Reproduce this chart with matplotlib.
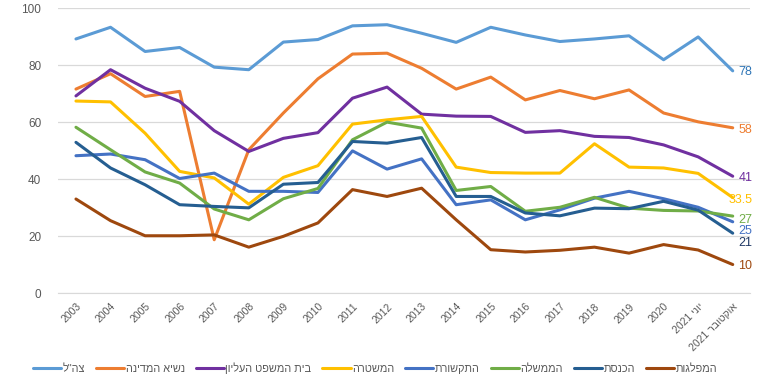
import numpy as np
import matplotlib
matplotlib.use("Agg")
import matplotlib.pyplot as plt

plt.rcParams['font.family'] = ['Liberation Sans', 'DejaVu Sans']


def heb(s):
    # matplotlib has no bidi support: flip Hebrew runs by hand
    return s[::-1]


years = [str(y) for y in range(2003, 2021)] + ['2021 ' + heb('יוני'), '2021 ' + heb('אוקטובר')]

idf = [89.2, 93.3, 84.8, 86.2, 79.3, 78.4, 88.1, 89.0, 93.8, 94.2,
       91.2, 88.0, 93.3, 90.6, 88.3, 89.2, 90.3, 81.9, 89.9, 78]
president = [71.6, 77.0, 69.0, 70.8, 18.7, 50.3, 63.2, 75.2, 83.9, 84.2,
             78.9, 71.6, 75.8, 67.8, 71.1, 68.2, 71.3, 63.2, 60.1, 58]
supreme_court = [69.2, 78.4, 71.9, 67.3, 57.0, 49.7, 54.3, 56.3, 68.4, 72.3,
                 62.8, 62.1, 62.0, 56.4, 57.0, 55.0, 54.6, 52.0, 47.8, 41]
police = [67.4, 67.1, 56.1, 42.7, 40.4, 31.2, 40.6, 44.7, 59.3, 60.8,
          62.0, 44.2, 42.3, 42.1, 42.1, 52.4, 44.2, 43.9, 42.0, 33.5]
media = [48.2, 48.8, 46.8, 40.2, 42.1, 35.7, 35.7, 35.3, 49.9, 43.5,
         47.1, 31.0, 32.7, 25.7, 29.2, 33.3, 35.7, 33.1, 30.1, 25]
government = [58.2, 50.3, 42.5, 38.6, 29.5, 25.7, 33.1, 36.7, 53.8, 60.0,
              57.9, 36.0, 37.4, 28.7, 30.1, 33.6, 29.8, 29.0, 28.8, 27]
knesset = [52.9, 43.9, 38.0, 31.0, 30.4, 29.9, 38.2, 38.8, 53.2, 52.6,
           54.6, 33.9, 33.9, 28.1, 27.1, 29.8, 29.6, 32.2, 29.1, 21]
parties = [33.0, 25.4, 20.1, 20.1, 20.4, 16.1, 19.9, 24.6, 36.3, 33.9,
           36.8, 25.7, 15.2, 14.4, 15.0, 16.1, 14.0, 17.0, 15.1, 10]

names = ['צה"ל', 'נשיא המדינה', 'בית המשפט העליון', 'המשטרה',
         'התקשורת', 'הממשלה', 'הכנסת', 'המפלגות']
series = [idf, president, supreme_court, police, media, government, knesset, parties]
end_labels = ['78', '58', '41', '33.5', '25', '27', '21', '10']

colors = ['#5B9BD5', '#ED7D31', '#7030A0', '#FFC000',
          '#4472C4', '#70AD47', '#255E91', '#9E480E']
label_colors = ['#2E75B6', '#ED7D31', '#7030A0', '#FFC000',
                '#4472C4', '#70AD47', '#1F3864', '#9E480E']
label_y = [77.5, 57.2, 40.4, 32.6, 21.8, 25.6, 17.6, 9.5]

fig = plt.figure(figsize=(7.58, 3.9), dpi=100)
ax = fig.add_axes([0.0765, 0.2487, 0.9125, 0.7303])

x = np.arange(len(years))
handles = []
for name, vals, c in zip(names, series, colors):
    h, = ax.plot(x, vals, color=c, linewidth=2.2, label=heb(name),
                 solid_joinstyle='round', solid_capstyle='round')
    handles.append(h)

# value labels at the last point, right-aligned near the edge
for lbl, ly, c in zip(end_labels, label_y, label_colors):
    ax.text(x[-1] + 0.57, ly, lbl, color=c, fontsize=9,
            va='center', ha='right', clip_on=False)

ax.set_xlim(-0.52, 19.49)
ax.set_ylim(0, 100)
ax.set_yticks(range(0, 101, 20))
ax.set_xticks(x)
ax.set_xticklabels(years, rotation=45, ha='right', rotation_mode='anchor',
                   fontsize=7.5, color='#595959')
ax.tick_params(axis='y', labelsize=8.5, labelcolor='#595959', length=0, pad=12)
ax.tick_params(axis='x', length=0, pad=6)
ax.grid(axis='y', color='#D9D9D9', linewidth=0.9)
ax.set_axisbelow(True)
for side in ['top', 'right', 'left']:
    ax.spines[side].set_visible(False)
ax.spines['bottom'].set_color('#D9D9D9')

fig.legend(handles=handles, loc='center', bbox_to_anchor=(0.495, 0.056),
           ncol=8, frameon=False, fontsize=7.8, handlelength=2.6,
           columnspacing=1.0, handletextpad=0.15, labelcolor='#595959')

fig.savefig('out.png', dpi=100)
